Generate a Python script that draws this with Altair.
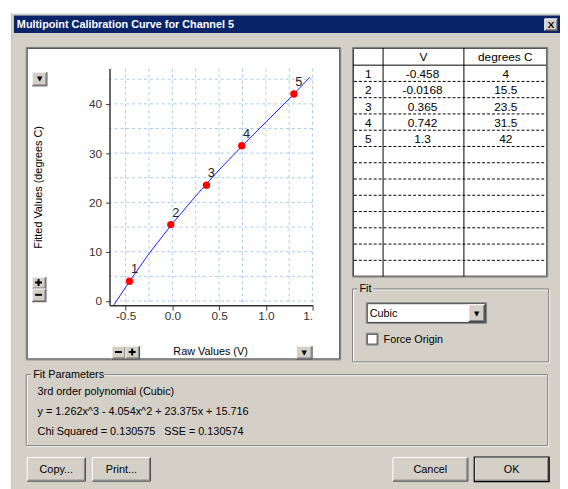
import altair as alt
import pandas as pd

# ---------------- data ----------------
RAW_V = [-0.458, -0.0168, 0.365, 0.742, 1.3]
DEG_C = [4, 15.5, 23.5, 31.5, 42]
POINT_ID = [1, 2, 3, 4, 5]

CURVE_X = [-0.65, -0.458, -0.25, 0.0, 0.25, 0.5, 0.75, 1.0, 1.25, 1.47]
CURVE_Y = [-1.5, 4.0, 9.6, 15.7, 21.3, 26.6, 31.5, 36.3, 41.0, 45.4]

X_TICKS = [-0.5, -0.25, 0.0, 0.25, 0.5, 0.75, 1.0, 1.25, 1.5]
Y_TICKS = [0, 5, 10, 15, 20, 25, 30, 35, 40, 45]

TITLE = "Multipoint Calibration Curve for Channel 5"
FIT_LINES = [
    "3rd order polynomial (Cubic)",
    "y = 1.262x^3 - 4.054x^2 + 23.375x + 15.716",
    "Chi Squared = 0.130575\u00a0\u00a0\u00a0SSE = 0.130574",
]

# ---------------- layout helpers (page pixel coords) ----------------
OX, OY = 111, 66          # page position of the plot area origin
W, H = 206, 240
FONT = "Liberation Sans"
BG = "#d4d0c8"
ONE = alt.Data(values=[{"k": 0}])


def rect(x1, y1, x2, y2, fill, stroke=None, sw=1.0):
    kw = dict(fill=fill, strokeWidth=sw)
    if stroke:
        kw["stroke"] = stroke
    return alt.Chart(ONE).mark_rect(**kw).encode(
        x=alt.value(x1 - OX), x2=alt.value(x2 - OX),
        y=alt.value(y1 - OY), y2=alt.value(y2 - OY))


def seg(x1, y1, x2, y2, color, sw=1.0, dash=None):
    kw = dict(color=color, strokeWidth=sw)
    if dash:
        kw["strokeDash"] = dash
    return alt.Chart(ONE).mark_rule(**kw).encode(
        x=alt.value(x1 - OX), x2=alt.value(x2 - OX),
        y=alt.value(y1 - OY), y2=alt.value(y2 - OY))


def txt(x, y, s, size=11, align="left", weight="normal", color="#000", font=FONT):
    return alt.Chart(ONE).mark_text(
        text=s, fontSize=size, align=align, baseline="middle",
        fontWeight=weight, color=color, font=font).encode(
        x=alt.value(x - OX), y=alt.value(y - OY))


def button(x1, y1, x2, y2, label=None, size=11, font=FONT, weight="normal", default=False):
    out = [rect(x1, y1, x2, y2, BG)]
    out += [seg(x1, y1, x2, y1, "#ffffff"), seg(x1, y1, x1, y2, "#ffffff"),
            seg(x1, y2, x2, y2, "#404040"), seg(x2, y1, x2, y2, "#404040"),
            seg(x1 + 1, y2 - 1, x2 - 1, y2 - 1, "#808080"),
            seg(x2 - 1, y1 + 1, x2 - 1, y2 - 1, "#808080")]
    if default:
        out.append(rect(x1 - 0.5, y1 - 0.5, x2 + 0.5, y2 + 0.5, "transparent", "#000000", 1.2))
    if label:
        out.append(txt((x1 + x2) / 2, (y1 + y2) / 2 + 0.5, label, size=size,
                       align="center", font=font, weight=weight))
    return out


def pm_button(x1, y1, x2, y2, plus):
    out = button(x1, y1, x2, y2)
    cx, cy = (x1 + x2) / 2 - 0.5, (y1 + y2) / 2 - 0.5
    out.append(seg(cx - 3.5, cy, cx + 3.5, cy, "#000000", sw=2))
    if plus:
        out.append(seg(cx, cy - 3.5, cx, cy + 3.5, "#000000", sw=2))
    return out


def groupbox(x1, y1, x2, y2, label, lw):
    return [
        rect(x1 + 1, y1 + 1, x2 + 1, y2 + 1, "transparent", "#ffffff"),
        rect(x1, y1, x2, y2, "transparent", "#808080"),
        rect(x1 + 5, y1 - 6, x1 + 7 + lw, y1 + 6, BG),
        txt(x1 + 7, y1, label),
    ]


layers = []
# dialog background and title bar
layers.append(rect(11, 10, 600, 520, BG))
layers.append(seg(11.5, 10, 11.5, 520, "#c8c4bc"))
layers.append(rect(14, 12, 600, 30, "#0a246a"))
layers.append(txt(17, 21.5, TITLE, size=11, weight="bold", color="#ffffff"))
layers += button(552.5, 15.5, 565.5, 27.5, "X", size=10, weight="bold")

# plot panel
layers.append(rect(26.5, 44.5, 345.5, 361.5, "#ffffff", "#808080"))
layers.append(rect(27.5, 45.5, 344.5, 360.5, "transparent", "#404040"))

# ---------------- the chart itself ----------------
xscale = alt.Scale(domain=[-0.672, 1.5], nice=False, zero=False)
yscale = alt.Scale(domain=[-0.85, 47.15], nice=False, zero=False)

pts = pd.DataFrame({"V": RAW_V, "degC": DEG_C, "n": POINT_ID})
curve = pd.DataFrame({"x": CURVE_X, "y": CURVE_Y})
xg = pd.DataFrame({"gx": X_TICKS})
yg = pd.DataFrame({"gy": Y_TICKS})

GRID = "#a9caf3"
xgrid = alt.Chart(xg).mark_rule(color=GRID, strokeDash=[3, 3], strokeWidth=1).encode(
    x=alt.X("gx:Q", scale=xscale))
ygrid = alt.Chart(yg).mark_rule(color=GRID, strokeDash=[3, 3], strokeWidth=1).encode(
    y=alt.Y("gy:Q", scale=yscale))

x_label_expr = (
    "abs(round(datum.value*2) - datum.value*2) < 0.001 ? "
    "(datum.value == 1.5 ? '1.' : (datum.value < 0 ? '-' : '') + format(abs(datum.value), '.1f')) : ''"
)

xaxis = alt.Axis(
    values=X_TICKS, labelExpr=x_label_expr, grid=False, tickSize=5,
    tickColor="#333333", domainColor="#333333", domainWidth=1.5,
    labelFont=FONT, labelFontSize=12, labelColor="#333333", labelPadding=1,
    labelFlush=True, labelOverlap=False,
    title="Raw Values (V)", titleX=102, titleY=47, titleBaseline="middle",
    titleAlign="center", titleFont=FONT, titleFontSize=11, titleFontWeight="normal",
    titleColor="#000000", zindex=1)
yaxis = alt.Axis(
    values=Y_TICKS, format="d", labelExpr="datum.value % 10 == 0 ? datum.label : ''",
    grid=False, tickSize=4, tickColor="#333333", domainColor="#333333", domainWidth=1.5,
    labelFont=FONT, labelFontSize=12, labelColor="#333333", labelPadding=4,
    labelOverlap=False,
    title="Fitted Values (degrees C)", titleX=-72, titleY=120, titleAngle=270,
    titleBaseline="middle", titleAlign="center", titleFont=FONT, titleFontSize=11,
    titleFontWeight="normal", titleColor="#000000", zindex=1)

line = alt.Chart(curve).mark_line(color="#1a1aff", strokeWidth=1, clip=True).encode(
    x=alt.X("x:Q", scale=xscale), y=alt.Y("y:Q", scale=yscale), order="x:Q")
points = alt.Chart(pts).mark_point(filled=True, color="#ff0000", size=55, opacity=1).encode(
    x=alt.X("V:Q", scale=xscale, axis=xaxis),
    y=alt.Y("degC:Q", scale=yscale, axis=yaxis))
plabels = alt.Chart(pts).mark_text(dx=5, dy=-12, font=FONT, fontSize=13, color="#222222").encode(
    x=alt.X("V:Q", scale=xscale), y=alt.Y("degC:Q", scale=yscale), text="n:N")

layers += [xgrid, ygrid, line, points, plabels]

# small panel buttons
layers += button(32.5, 69.5, 47.5, 83.5, "▼", size=7, font="DejaVu Sans")
layers += pm_button(32.5, 277.5, 46.5, 289.5, True)
layers += pm_button(32.5, 289.5, 46.5, 302.5, False)
layers += pm_button(113.5, 347.5, 127.5, 360.5, False)
layers += pm_button(127.5, 347.5, 141.5, 360.5, True)
layers += button(300.5, 347.5, 316.5, 360.5, "▼", size=7, font="DejaVu Sans")

# ---------------- data table ----------------
TX1, TX2, TY1, TY2 = 358, 554, 45, 277
layers.append(rect(357.5, 44.5, 555.5, 277.5, "#ffffff", "#808080"))
layers.append(rect(358.5, 45.5, 554.5, 276.5, "transparent", "#404040"))
layers.append(seg(388.5, TY1, 388.5, TY2, "#000000"))
layers.append(seg(470.5, TY1, 470.5, TY2, "#000000"))
layers.append(seg(TX1, 62.5, TX2, 62.5, "#000000"))
ROW_H = 16.5
for k in range(1, 13):
    yy = 62.5 + ROW_H * k
    layers.append(seg(TX1 + 1, yy, TX2, yy, "#000000", dash=[3, 2]))
layers.append(txt(429.5, 54, "V", size=12, align="center"))
layers.append(txt(512.5, 54, "degrees C", size=12, align="center"))
for i, (n, v, d) in enumerate(zip(POINT_ID, RAW_V, DEG_C)):
    yy = 71.5 + ROW_H * i
    layers.append(txt(373.5, yy, str(n), size=12, align="center"))
    layers.append(txt(428.5, yy, str(v), size=12, align="center"))
    layers.append(txt(513, yy, str(d), size=12, align="center"))

# ---------------- Fit group ----------------
layers += groupbox(357.5, 289.5, 556.5, 363.5, "Fit", 14)
layers.append(rect(371.5, 303.5, 493.5, 324.5, "#ffffff", "#808080"))
layers.append(rect(372.5, 304.5, 492.5, 323.5, "transparent", "#404040"))
layers.append(txt(375, 314.5, "Cubic"))
layers += button(475.5, 305.5, 491.5, 322.5, "▼", size=7, font="DejaVu Sans")
layers.append(rect(371.5, 334.5, 383.5, 346.5, "#ffffff", "#808080"))
layers.append(rect(372.5, 335.5, 382.5, 345.5, "transparent", "#404040"))
layers.append(txt(389, 341, "Force Origin"))

# ---------------- Fit Parameters group ----------------
layers += groupbox(26.5, 376.5, 555.5, 448.5, "Fit Parameters", 72)
for i, s in enumerate(FIT_LINES):
    layers.append(txt(38, 394.5 + 20 * i, s))

# ---------------- dialog buttons ----------------
layers += button(27.5, 460.5, 86.5, 484.5, "Copy...")
layers += button(93.5, 460.5, 152.5, 484.5, "Print...")
layers += button(398.5, 460.5, 474.5, 484.5, "Cancel")
layers += button(481.5, 460.5, 556.5, 484.5, "OK", default=True)

chart = alt.layer(*layers).properties(
    width=W, height=H,
    autosize=alt.AutoSizeParams(type="none"),
    padding={"left": OX - 8, "top": OY - 8, "right": 560 - (OX - 8) - W, "bottom": 481 - (OY - 8) - H},
    background="#ffffff",
).configure_view(stroke=None)

chart.save("out.html", embed_options={"renderer": "svg", "actions": False})
